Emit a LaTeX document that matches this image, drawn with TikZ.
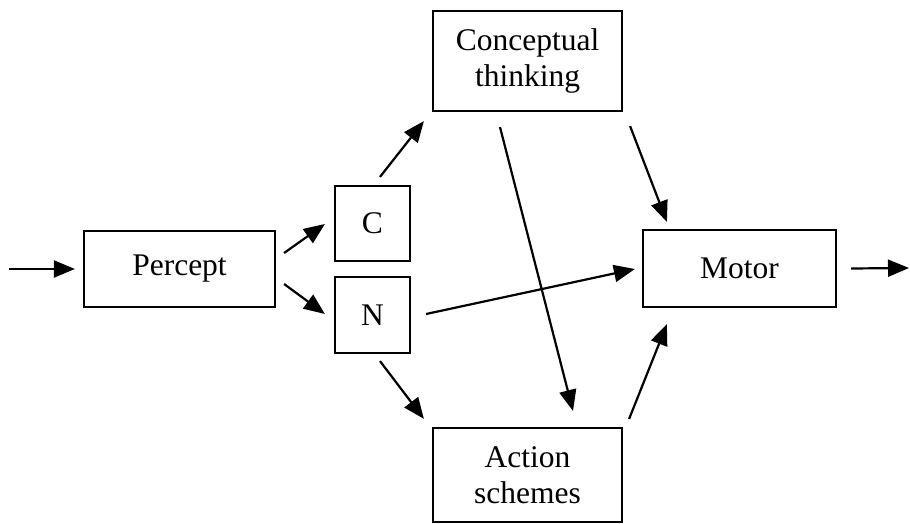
\documentclass[tikz,border=0pt]{standalone}
\usepackage{fontspec}
\setmainfont{Liberation Serif}
\usetikzlibrary{arrows.meta,calc}

\begin{document}
\begin{tikzpicture}[x=1pt,y=-1pt,
  box/.style={draw=black,line width=2.2pt,fill=white,inner sep=0pt,align=center,
    font=\fontsize{31.5}{36}\selectfont},
  flow/.style={line width=2.2pt,-{Triangle[length=21pt,width=17pt]}}]
  \useasboundingbox (0,0) rectangle (910,524);

  % blocks
  \node[box,minimum width=191pt,minimum height=76pt] (per) at (179.5,269) {Percept};
  \node[box,minimum width=75pt,minimum height=75pt] (c) at (372.5,223.5) {C};
  \node[box,minimum width=75pt,minimum height=76pt] (n) at (372.5,315) {N};
  \node[box,minimum width=189pt,minimum height=100pt] (con) at (527.5,61) {Conceptual\\thinking};
  \node[box,minimum width=193pt,minimum height=77pt] (mot) at (739.5,268.5) {Motor};
  \node[box,minimum width=189pt,minimum height=94pt] (act) at (527.5,475) {Action\\schemes};

  % free ends
  \coordinate (in) at (9,269);
  \coordinate (out) at (909,268);

  % connectors
  \draw[flow] (in) -- ($(per.west)+(-8,0)$);
  \draw[flow] ($(mot.east)+(14,0)$) -- (out);
  \draw[flow] ($(per.east)+(8,-16)$) -- ($(c.west)+(-9,0.5)$);
  \draw[flow] ($(per.east)+(8,15)$) -- ($(n.west)+(-9,-1)$);
  \draw[flow] ($(c.north)+(7.5,-8)$) -- ($(con.south west)+(-8,9)$);
  \draw[flow] ($(n.south)+(7.5,7)$) -- ($(act.north west)+(-8,-8)$);
  \draw[flow] ($(n.east)+(15,-1)$) -- ($(mot.west)+(-7,0.5)$);
  \draw[flow] ($(con.south)+(-27.5,15)$) -- ($(act.north)+(45.5,-16)$);
  \draw[flow] ($(con.south east)+(7,14)$) -- ($(mot.north west)+(25,-7)$);
  \draw[flow] ($(act.north east)+(6,-8)$) -- ($(mot.south west)+(25,16)$);
\end{tikzpicture}
\end{document}
